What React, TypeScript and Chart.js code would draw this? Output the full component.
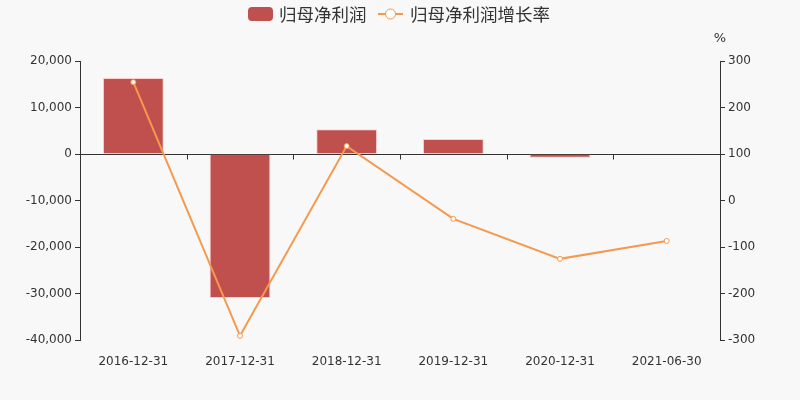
import React, { useEffect, useRef } from 'react';
import { Chart, registerables } from 'chart.js';

Chart.register(...registerables);

// values
const periods = ['2016-12-31', '2017-12-31', '2018-12-31', '2019-12-31', '2020-12-31', '2021-06-30'];
const netProfit = [16340, -30970, 5330, 3220, -800, 60];
const growthRate = [254.5, -291, 117, -39.5, -125.5, -87];
const leftTicks = [-40000, -30000, -20000, -10000, 0, 10000, 20000];
const rightTicks = [-300, -200, -100, 0, 100, 200, 300];

const barName = '归母净利润';
const lineName = '归母净利润增长率';
const barColor = '#c0504d';
const lineColor = '#f5994e';
const textColor = '#333';
const bgColor = '#f8f8f8';

const fmt = (v: number) => v.toLocaleString('en-US');

// background, zero line, category ticks, legend and "%" unit
const decorations = {
  id: 'decorations',
  beforeDraw(chart: any) {
    const { ctx, width, height } = chart;
    ctx.save();
    ctx.fillStyle = bgColor;
    ctx.fillRect(0, 0, width, height);
    ctx.restore();
  },
  beforeDatasetsDraw(chart: any) {
    const { ctx, chartArea, scales } = chart;
    const y0 = Math.round(scales.y.getPixelForValue(0)) + 0.5;
    ctx.save();
    ctx.strokeStyle = textColor;
    ctx.lineWidth = 1;
    ctx.beginPath();
    ctx.moveTo(chartArea.left, y0);
    ctx.lineTo(chartArea.right, y0);
    for (let i = 0; i < periods.length - 1; i++) {
      const x = Math.round((scales.x.getPixelForValue(i) + scales.x.getPixelForValue(i + 1)) / 2) + 0.5;
      ctx.moveTo(x, y0);
      ctx.lineTo(x, y0 + 5);
    }
    ctx.stroke();
    ctx.restore();
  },
  afterDraw(chart: any) {
    const { ctx, chartArea } = chart;
    ctx.save();
    ctx.textBaseline = 'middle';
    ctx.font = '17.5px "Noto Sans CJK SC", "DejaVu Sans", sans-serif';
    const cy = 14;
    // bar legend item
    ctx.fillStyle = barColor;
    ctx.beginPath();
    ctx.roundRect(248, cy - 7, 25, 14, 4);
    ctx.fill();
    ctx.fillStyle = textColor;
    ctx.textAlign = 'left';
    ctx.fillText(barName, 279, cy);
    // line legend item
    ctx.strokeStyle = lineColor;
    ctx.lineWidth = 2;
    ctx.beginPath();
    ctx.moveTo(378, cy);
    ctx.lineTo(403, cy);
    ctx.stroke();
    ctx.fillStyle = '#fff';
    ctx.lineWidth = 1;
    ctx.beginPath();
    ctx.arc(390.5, cy, 5, 0, Math.PI * 2);
    ctx.fill();
    ctx.stroke();
    ctx.fillStyle = textColor;
    ctx.fillText(lineName, 410, cy);
    // unit
    ctx.font = '13px "DejaVu Sans", sans-serif';
    ctx.textAlign = 'center';
    ctx.fillText('%', chartArea.right, 39);
    ctx.restore();
  },
};

const App: React.FC = () => {
  const canvasRef = useRef<HTMLCanvasElement | null>(null);

  useEffect(() => {
    document.body.style.margin = '0';
    if (!canvasRef.current) return;
    const tickFont = { family: '"DejaVu Sans", sans-serif', size: 12 };
    const chart = new Chart(canvasRef.current, {
      type: 'bar',
      data: {
        labels: periods,
        datasets: [
          {
            type: 'line',
            label: lineName,
            data: growthRate,
            yAxisID: 'y1',
            borderColor: lineColor,
            borderWidth: 2,
            pointRadius: 2.5,
            pointBackgroundColor: '#fff',
            pointBorderColor: lineColor,
            pointBorderWidth: 1,
            tension: 0,
            order: 0,
          } as any,
          {
            type: 'bar',
            label: barName,
            data: netProfit,
            yAxisID: 'y',
            backgroundColor: barColor,
            borderColor: 'rgba(255,190,190,0.7)',
            borderWidth: 1,
            barPercentage: 0.57,
            categoryPercentage: 1,
            order: 1,
          },
        ],
      },
      options: {
        responsive: false,
        animation: false,
        layout: { padding: { top: 61, left: 0, right: 0, bottom: 0 } },
        plugins: { legend: { display: false }, tooltip: { enabled: false } },
        scales: {
          x: {
            grid: { display: false },
            border: { display: false },
            ticks: { color: textColor, font: tickFont, padding: 7, maxRotation: 0 },
            afterFit: (s: any) => { s.height = 60; },
          },
          y: {
            position: 'left',
            min: -40000,
            max: 20000,
            afterBuildTicks: (s: any) => { s.ticks = leftTicks.map((v) => ({ value: v })); },
            grid: { drawOnChartArea: false, tickLength: 5, color: textColor },
            border: { display: true, color: textColor },
            ticks: { color: textColor, font: tickFont, padding: 3, callback: (v: any) => fmt(Number(v)) },
            afterFit: (s: any) => { s.width = 80; },
          },
          y1: {
            position: 'right',
            min: -300,
            max: 300,
            afterBuildTicks: (s: any) => { s.ticks = rightTicks.map((v) => ({ value: v })); },
            grid: { drawOnChartArea: false, tickLength: 5, color: textColor },
            border: { display: true, color: textColor },
            ticks: { color: textColor, font: tickFont, padding: 3 },
            afterFit: (s: any) => { s.width = 80; },
          },
        },
      },
      plugins: [decorations],
    });
    return () => chart.destroy();
  }, []);

  return (
    <div style={{ width: 800, height: 400 }}>
      <canvas ref={canvasRef} width={800} height={400}></canvas>
    </div>
  );
};

export default App;
